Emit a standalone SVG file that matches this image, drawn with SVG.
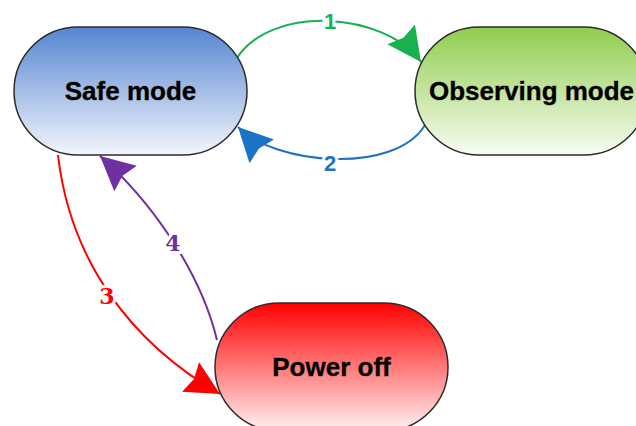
<svg xmlns="http://www.w3.org/2000/svg" width="636" height="426" viewBox="0 0 636 426">
  <style>
    .node { stroke: #2b2b2b; stroke-width: 1.5; }
    .title { font-family: "Liberation Sans", Arial, sans-serif; font-weight: bold; font-size: 26px; fill: #000; stroke: #5a4416; stroke-width: 0.8; stroke-opacity: 0.6; paint-order: stroke; text-anchor: middle; dominant-baseline: central; }
    .edge { fill: none; stroke-width: 2; }
    .num { font-weight: bold; font-size: 22px; text-anchor: middle; dominant-baseline: central; stroke: #fff; stroke-width: 6; paint-order: stroke; }
    .sans { font-family: "Liberation Sans", Arial, sans-serif; }
    .serif { font-family: "DejaVu Serif", "Liberation Serif", serif; }
  </style>
  <defs>
    <linearGradient id="gBlue" x1="0" y1="0" x2="0" y2="1">
      <stop offset="0" stop-color="#5585d0"/>
      <stop offset="1" stop-color="#f3f6fc"/>
    </linearGradient>
    <linearGradient id="gGreen" x1="0" y1="0" x2="0" y2="1">
      <stop offset="0" stop-color="#8fcd4e"/>
      <stop offset="1" stop-color="#f8fcf3"/>
    </linearGradient>
    <linearGradient id="gRed" x1="0" y1="0" x2="0" y2="1">
      <stop offset="0" stop-color="#ff0000"/>
      <stop offset="1" stop-color="#fff2f2"/>
    </linearGradient>
    <marker id="mGreen" markerUnits="userSpaceOnUse" markerWidth="38" markerHeight="36" refX="34" refY="18" orient="auto">
      <path d="M0,1 L34,18 L0,35 L4,18 z" fill="#19b04f"/>
    </marker>
    <marker id="mBlue" markerUnits="userSpaceOnUse" markerWidth="38" markerHeight="36" refX="34" refY="18" orient="auto">
      <path d="M0,1 L34,18 L0,35 L4,18 z" fill="#1b73c6"/>
    </marker>
    <marker id="mRed" markerUnits="userSpaceOnUse" markerWidth="38" markerHeight="36" refX="34" refY="18" orient="auto">
      <path d="M0,1 L34,18 L0,35 L4,18 z" fill="#ff0000"/>
    </marker>
    <marker id="mPurple" markerUnits="userSpaceOnUse" markerWidth="38" markerHeight="36" refX="34" refY="18" orient="auto">
      <path d="M0,1 L34,18 L0,35 L4,18 z" fill="#7030a0"/>
    </marker>
  </defs>

  <rect width="636" height="426" fill="#fff"/>

  <!-- transitions between modes -->
  <g id="connectors">
    <path class="edge" stroke="#19b04f" d="M237,58 C272,4 385,12 421,62" marker-end="url(#mGreen)"/>
    <path class="edge" stroke="#1b73c6" d="M425,125 C395,175 275,165 238,127" marker-end="url(#mBlue)"/>
    <path class="edge" stroke="#ff0000" d="M58,155 C70,260 130,342 220,394" marker-end="url(#mRed)"/>
    <path class="edge" stroke="#7030a0" d="M217,340 C200,270 150,200 100,156" marker-end="url(#mPurple)"/>
    <text class="num sans" x="330" y="21" fill="#19b04f">1</text>
    <text class="num sans" x="330" y="163" fill="#1b73c6">2</text>
    <text class="num serif" x="107" y="296" fill="#ff0000">3</text>
    <text class="num serif" x="173" y="243" fill="#7030a0">4</text>
  </g>

  <g id="safe-mode">
    <rect class="node" x="14" y="27" width="233" height="128" rx="64" fill="url(#gBlue)"/>
    <text class="title" x="130.5" y="91">Safe mode</text>
  </g>

  <g id="observing-mode">
    <rect class="node" x="415" y="27" width="233" height="128" rx="64" fill="url(#gGreen)"/>
    <text class="title" x="531.5" y="91">Observing mode</text>
  </g>

  <g id="power-off">
    <rect class="node" x="215" y="303" width="233" height="128" rx="64" fill="url(#gRed)"/>
    <text class="title" x="331.5" y="367">Power off</text>
  </g>
</svg>
